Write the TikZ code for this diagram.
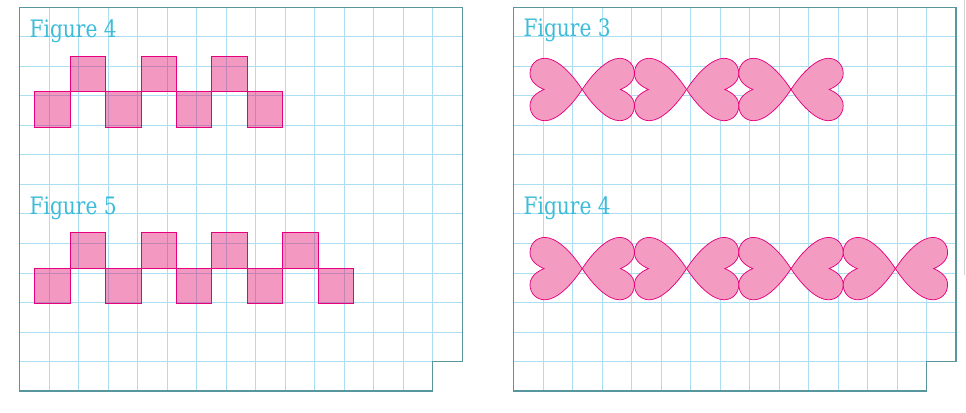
\documentclass[tikz,border=0pt]{standalone}
\usepackage{fontspec}
\newfontfamily\figfont{DejaVu Serif}[FakeStretch=0.84]
\definecolor{gridc}{RGB}{172,222,241}
\definecolor{framec}{RGB}{88,150,158}
\definecolor{textc}{RGB}{60,188,216}
\definecolor{sqfill}{RGB}{225,0,100}
\definecolor{sqline}{RGB}{230,0,126}
\definecolor{heartfill}{RGB}{243,155,193}
\definecolor{artc}{RGB}{210,212,216}
\tikzset{
  gridline/.style={draw=gridc, line width=0.75pt},
  framest/.style={draw=framec, line width=0.85pt},
  figlabel/.style={text=textc, font=\figfont\fontsize{18}{20}\selectfont, inner sep=0pt, anchor=base west},
  sqst/.style={fill=sqfill, fill opacity=0.4, draw=sqline, line width=0.75pt},
  heartst/.style={fill=heartfill, draw=sqline, line width=0.55pt},
}
\begin{document}
\begin{tikzpicture}[x=0.75pt,y=-0.75pt]
\useasboundingbox (0,0) rectangle (966,413);
% grids and frames
\foreach \ox in {19.8,513.5} {
  \foreach \k in {1,...,13} {
    \draw[gridline] (\ox+\k*29.5,7.5) -- (\ox+\k*29.5,391);
  }
  \draw[gridline] (\ox+14*29.5,7.5) -- (\ox+14*29.5,361.5);
  \foreach \j in {1,...,12} {
    \draw[gridline] (\ox,7.5+\j*29.5) -- (\ox+442.5,7.5+\j*29.5);
  }
  \draw[framest] (\ox,7.5) -- (\ox+442.5,7.5) -- (\ox+442.5,361.5) -- (\ox+413,361.5) -- (\ox+413,391) -- (\ox,391) -- cycle;
}
% faint edge line
\draw[artc, line width=0.6pt] (964.8,0) -- (964.8,275);
% labels
\node[figlabel] (l4) at (29.3,37.4) {Figure 4};
\node[figlabel] (l5) at (29.3,214.2) {Figure 5};
\node[figlabel] (r3) at (523.3,36.8) {Figure 3};
\node[figlabel] (r4) at (523.3,214.2) {Figure 4};
% squares, left figure 4
\foreach \i in {0,...,6} {
  \pgfmathsetmacro\sx{34.7+\i*35.45}
  \pgfmathsetmacro\sy{91.7-35.45*mod(\i,2)}
  \draw[sqst] (\sx,\sy) rectangle ++(35.45,35.45);
}
% squares, left figure 5
\foreach \i in {0,...,8} {
  \pgfmathsetmacro\sx{34.7+\i*35.45}
  \pgfmathsetmacro\sy{268.0-35.45*mod(\i,2)}
  \draw[sqst] (\sx,\sy) rectangle ++(35.45,35.45);
}
% hearts
\foreach \n/\cy in {5/89.5,7/268.6} {
  \foreach \k in {0,...,\n} {
    \pgfmathsetmacro\hx{530+\k*52.2+52.2*mod(\k,2)}
    \pgfmathsetmacro\hs{1-2*mod(\k,2)}
    \begin{scope}[shift={(\hx,\cy)}, xscale=\hs]
      \filldraw[heartst] (14,0) .. controls (8,-2.5) and (0,-7.5) .. (0,-16)
        .. controls (0,-25) and (6.5,-31.2) .. (15,-31.2)
        .. controls (26,-31.2) and (40.5,-18) .. (52.2,0)
        .. controls (40.5,18) and (26,31.2) .. (15,31.2)
        .. controls (6.5,31.2) and (0,25) .. (0,16)
        .. controls (0,7.5) and (8,2.5) .. (14,0) -- cycle;
    \end{scope}
  }
}
\end{tikzpicture}
\end{document}
